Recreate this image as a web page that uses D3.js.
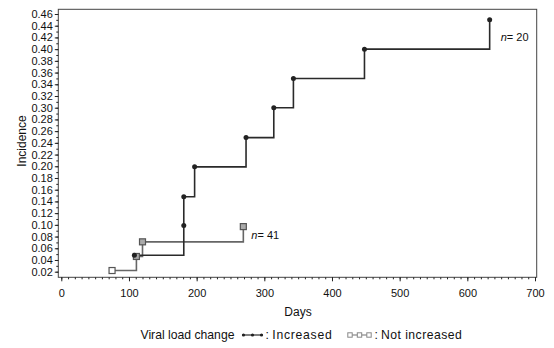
<!DOCTYPE html>
<html><head><meta charset="utf-8">
<script src="https://cdn.jsdelivr.net/npm/d3@7"></script>
<style>body{margin:0;background:#fff}svg{display:block;font-family:"Liberation Sans",Arial,sans-serif}</style>
</head><body><svg id="c" width="554" height="348"></svg>
<script>
const incDays = [108, 181, 181, 197, 273, 314, 343, 448, 633];
const incVals = [0.048, 0.099, 0.148, 0.199, 0.249, 0.300, 0.350, 0.400, 0.450];
const notDays = [75, 111, 120, 269];
const notVals = [0.022, 0.046, 0.071, 0.097];
const xTicks = [0, 100, 200, 300, 400, 500, 600, 700];
const yTicks = d3.range(0.02, 0.4601, 0.02);
const seriesLabels = ["Increased", "Not increased"];
const nLabels = ["20", "41"];

const svg = d3.select("#c");
const x = d3.scaleLinear().domain([0, 700]).range([61.3, 535]);
const y = d3.scaleLinear().domain([0.02, 0.46]).range([271.7, 14]);
const L = 58.3, R = 536.7, T = 9.3, B = 277.3;

// frame
svg.append("rect").attr("x", L).attr("y", T).attr("width", R - L).attr("height", B - T)
  .attr("fill", "none").attr("stroke", "#444").attr("stroke-width", 1);

// x axis
const xa = svg.append("g").attr("transform", `translate(0,${B})`)
  .call(d3.axisBottom(x).tickValues(d3.range(0, 701, 10)).tickSize(2).tickFormat(""));
xa.select(".domain").remove();
xa.selectAll("line").attr("stroke", "#222");
const xb = svg.append("g").attr("transform", `translate(0,${B})`)
  .call(d3.axisBottom(x).tickValues(xTicks).tickSize(4).tickPadding(8).tickFormat(d3.format("d")));
xb.select(".domain").remove();
xb.selectAll("line").attr("stroke", "#222");
xb.selectAll("text").attr("font-size", 11).attr("fill", "#111").attr("font-family", "Liberation Sans, Arial");

// y axis
const ya = svg.append("g").attr("transform", `translate(${L},0)`)
  .call(d3.axisLeft(y).tickValues(d3.range(0.01, 0.4701, 0.01).filter(v => v >= 0.0105 && v <= 0.4675)).tickSize(2).tickFormat(""));
ya.select(".domain").remove();
ya.selectAll("line").attr("stroke", "#222");
const yb = svg.append("g").attr("transform", `translate(${L},0)`)
  .call(d3.axisLeft(y).tickValues(yTicks).tickSize(3.5).tickPadding(2).tickFormat(d3.format(".2f")));
yb.select(".domain").remove();
yb.selectAll("line").attr("stroke", "#222");
yb.selectAll("text").attr("font-size", 11).attr("fill", "#111").attr("font-family", "Liberation Sans, Arial");

// titles
svg.append("text").attr("x", 298).attr("y", 316).attr("text-anchor", "middle")
  .attr("font-size", 12).attr("fill", "#111").text("Days");
svg.append("text").attr("transform", "translate(26,141) rotate(-90)").attr("text-anchor", "middle")
  .attr("font-size", 12).attr("fill", "#111").text("Incidence");

const line = d3.line().x(d => x(d[0])).y(d => y(d[1])).curve(d3.curveStepAfter);
const incData = incDays.map((d, i) => [d, incVals[i]]);
const notData = notDays.map((d, i) => [d, notVals[i]]);

svg.append("path").datum(notData).attr("d", line).attr("fill", "none")
  .attr("stroke", "#666").attr("stroke-width", 1.6);
svg.append("path").datum(incData).attr("d", line).attr("fill", "none")
  .attr("stroke", "#2a2a2a").attr("stroke-width", 1.6);

svg.selectAll(".sq").data(notData).enter().append("rect")
  .attr("x", d => x(d[0]) - 3).attr("y", d => y(d[1]) - 3).attr("width", 6).attr("height", 6)
  .attr("fill", (d, i) => i === 0 ? "#fff" : "#aaa").attr("stroke", "#555").attr("stroke-width", 1.2);
svg.selectAll(".dot").data(incData).enter().append("circle")
  .attr("cx", d => x(d[0])).attr("cy", d => y(d[1])).attr("r", 2.5).attr("fill", "#222");

// n labels
function nLab(xp, yp, n) {
  const t = svg.append("text").attr("x", xp).attr("y", yp).attr("font-size", 11).attr("fill", "#111");
  t.append("tspan").attr("font-style", "italic").text("n");
  t.append("tspan").text("= " + n);
}
nLab(x(incDays[incDays.length - 1]) + 11, y(incVals[incVals.length - 1]) + 21, nLabels[0]);
nLab(x(notDays[notDays.length - 1]) + 8, y(notVals[notVals.length - 1]) + 12, nLabels[1]);

// legend
const ly = 335;
svg.append("text").attr("x", 140.5).attr("y", ly + 4).attr("font-size", 12.2).attr("fill", "#111").text("Viral load change");
const lg1 = svg.append("g");
lg1.append("line").attr("x1", 242).attr("x2", 263).attr("y1", ly).attr("y2", ly).attr("stroke", "#2a2a2a").attr("stroke-width", 1.2);
[243.5, 252.5, 261.5].forEach(cx => lg1.append("circle").attr("cx", cx).attr("cy", ly).attr("r", 1.6).attr("fill", "#222"));
svg.append("text").attr("x", 265.5).attr("y", ly + 4).attr("font-size", 12.2).attr("fill", "#111").text(":");
svg.append("text").attr("x", 272.3).attr("y", ly + 4).attr("font-size", 12.2).attr("fill", "#111")
  .attr("textLength", 59.4).attr("lengthAdjust", "spacing").text(seriesLabels[0]);
const lg2 = svg.append("g");
lg2.append("line").attr("x1", 348).attr("x2", 371).attr("y1", ly).attr("y2", ly).attr("stroke", "#888").attr("stroke-width", 1.2);
[350, 359.5, 369].forEach(cx => lg2.append("rect").attr("x", cx - 2.2).attr("y", ly - 2.2).attr("width", 4.4).attr("height", 4.4)
  .attr("fill", "#fff").attr("stroke", "#888").attr("stroke-width", 1));
svg.append("text").attr("x", 374.5).attr("y", ly + 4).attr("font-size", 12.2).attr("fill", "#111").text(":");
svg.append("text").attr("x", 381).attr("y", ly + 4).attr("font-size", 12.2).attr("fill", "#111")
  .attr("textLength", 80.7).attr("lengthAdjust", "spacing").text(seriesLabels[1]);
</script></body></html>
